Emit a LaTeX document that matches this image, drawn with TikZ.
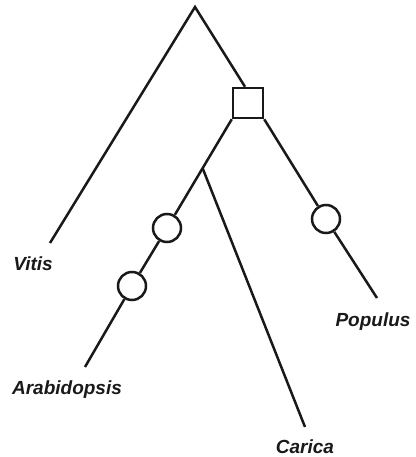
\documentclass[tikz,border=0pt]{standalone}
\usepackage{fontspec}
\setmainfont{Liberation Sans}
\usepackage{tikz}
\usetikzlibrary{positioning, calc}

\begin{document}
\begin{tikzpicture}[
        x=1pt, y=-1pt,
        % Define styles for the nodes
        dup_node/.style={rectangle, draw=black!90, line width=2.5pt, minimum size=30pt, inner sep=0pt, fill=white},
        loss_node/.style={circle, draw=black!90, line width=2.5pt, minimum size=28pt, inner sep=0pt, fill=white},
        taxon_node/.style={anchor=base, inner sep=0pt, text=black!90, font=\fontsize{19}{21}\selectfont\bfseries\itshape},
        % Styles for branches
        branch/.style={line width=2.5pt, black!90}
    ]
    \useasboundingbox (0,0) rectangle (415,457);

    % =========================================================================
    % ROOT & DUPLICATION
    % =========================================================================
    \coordinate (root) at (195,7);
    \coordinate (vitis_tip) at (50,243);
    \node (dup) [dup_node] at (248,103) {};

    % =========================================================================
    % LOSSES
    % =========================================================================
    \node (loss1) [loss_node] at (167,228) {};
    \node (loss2) [loss_node] at (132,286) {};
    \node (loss3) [loss_node] at (326,219) {};

    % =========================================================================
    % TIPS
    % =========================================================================
    \coordinate (arab_tip) at (85,367);
    \coordinate (pop_tip) at (377,298);
    \coordinate (car_tip) at (305,427);
    \coordinate (car_base) at ($(dup.south west)!0.45!(loss1.center)$);

    \node (vitis) [taxon_node] at (33,270) {Vitis};
    \node (arab) [taxon_node] at (67,394) {Arabidopsis};
    \node (pop) [taxon_node] at (373,326) {Populus};
    \node (car) [taxon_node] at (305,453) {Carica};

    % Branches
    \draw [branch] (vitis_tip) -- (root) -- ([xshift=-3pt]dup.north);
    \draw [branch] (dup.south west) -- (loss1);
    \draw [branch] (loss1) -- (loss2);
    \draw [branch] (loss2) -- (arab_tip);
    \draw [branch] (car_base) -- (car_tip);
    \draw [branch] (dup.south east) -- (loss3);
    \draw [branch] (loss3) -- (pop_tip);

\end{tikzpicture}
\end{document}
